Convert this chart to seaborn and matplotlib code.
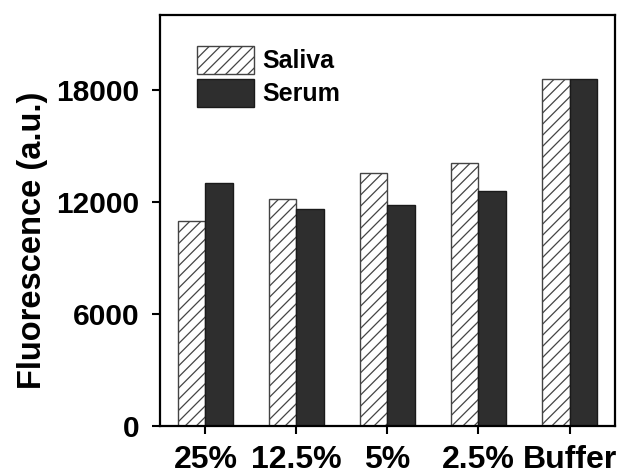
import matplotlib
matplotlib.use("Agg")
import matplotlib.pyplot as plt
from matplotlib.patches import Patch
from matplotlib import font_manager
import seaborn as sns
import pandas as pd

categories = ["25%", "12.5%", "5%", "2.5%", "Buffer"]
saliva = [11000, 12150, 13550, 14100, 18600]
serum = [13000, 11600, 11850, 12600, 18600]
series_names = ["Saliva", "Serum"]
yticks = [0, 6000, 12000, 18000]

df = pd.DataFrame({
    "cat": categories * 2,
    "val": saliva + serum,
    "sample": [series_names[0]] * len(categories) + [series_names[1]] * len(categories),
})

sns.set_theme(style="ticks")
plt.rcParams["font.family"] = ["Liberation Sans", "DejaVu Sans"]
plt.rcParams["font.weight"] = "bold"
plt.rcParams["hatch.linewidth"] = 0.9
plt.rcParams["text.color"] = "black"
plt.rcParams["axes.labelcolor"] = "black"
plt.rcParams["xtick.color"] = "black"
plt.rcParams["ytick.color"] = "black"

names = {f.name for f in font_manager.fontManager.ttflist}
if "Liberation Sans Narrow" in names:
    tick_family, ysize, xsize = "Liberation Sans Narrow", 26, 27
else:
    tick_family, ysize, xsize = "Liberation Sans", 21.5, 23

fig = plt.figure(figsize=(6.42, 4.76), dpi=100)
ax = fig.add_axes([0.249, 0.105, 0.709, 0.863])

dark = "#2e2e2e"
edge = "#444444"
sns.barplot(data=df, x="cat", y="val", hue="sample", order=categories,
            hue_order=series_names, palette=["white", dark], width=0.6, gap=0,
            edgecolor=edge, linewidth=1.0, legend=False, ax=ax, errorbar=None,
            saturation=1)

n = len(categories)
for i, p in enumerate(ax.patches):
    if i < n:
        p.set_hatch("///")
        p.set_facecolor("white")
        p.set_edgecolor(edge)
    else:
        p.set_facecolor(dark)
        p.set_edgecolor("#1a1a1a")

ax.set_xlim(-0.5, 4.5)
ax.set_ylim(0, 22000)
ax.set_yticks(yticks)
ax.set_yticklabels([str(v) for v in yticks])
ax.set_xlabel("")
ax.set_ylabel("Fluorescence (a.u.)", fontsize=23.5, fontweight="bold", color="black")
ax.yaxis.set_label_coords(-0.246, 0.453)
ax.tick_params(axis="both", direction="out", length=6, width=1.5, colors="black")
ax.tick_params(axis="y", pad=9)
ax.tick_params(axis="x", pad=8)
for lab in ax.get_yticklabels():
    lab.set_fontfamily(tick_family)
    lab.set_fontsize(ysize)
    lab.set_fontweight("bold")
for lab in ax.get_xticklabels():
    lab.set_fontfamily(tick_family)
    lab.set_fontsize(xsize)
    lab.set_fontweight("bold")
for s in ax.spines.values():
    s.set_visible(True)
    s.set_linewidth(1.6)
    s.set_color("black")

handles = [Patch(facecolor="white", edgecolor=edge, hatch="///", linewidth=1.0),
           Patch(facecolor=dark, edgecolor="#1a1a1a", linewidth=1.0)]
leg = ax.legend(handles, series_names, loc="upper left", bbox_to_anchor=(0.081, 0.925),
                frameon=False, prop={"weight": "bold", "size": 18}, handlelength=2.28,
                handleheight=1.35, labelspacing=0.2, handletextpad=0.36,
                borderpad=0, borderaxespad=0)
for t in leg.get_texts():
    t.set_color("black")

fig.savefig("out.png", dpi=100)
